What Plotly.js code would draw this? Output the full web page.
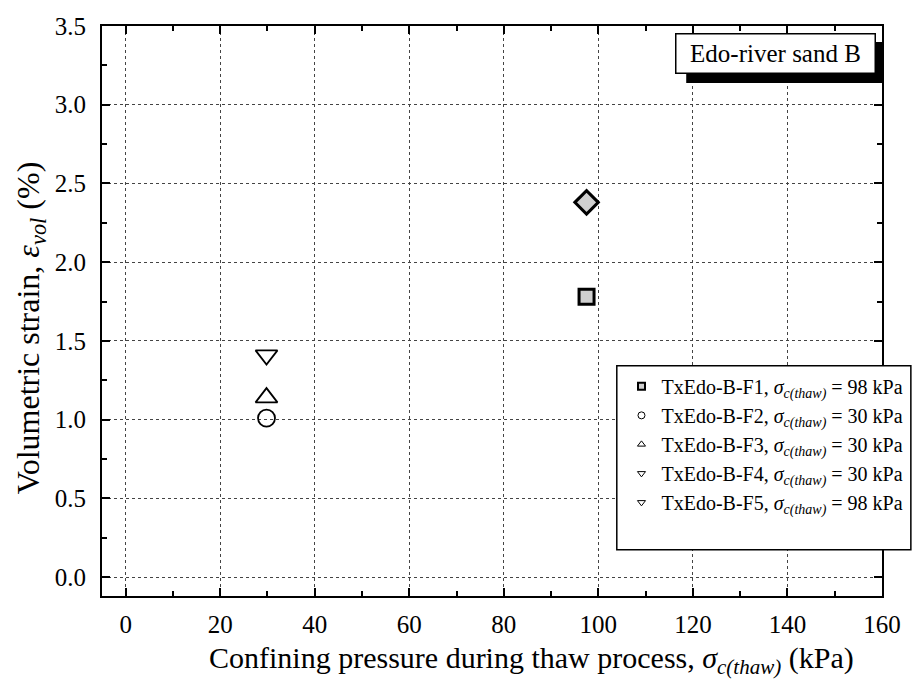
<!DOCTYPE html>
<html><head><meta charset="utf-8">
<script src="https://cdn.plot.ly/plotly-3.0.1.min.js"></script>
<style>body{margin:0;background:#fff}#chart{width:914px;height:685px}</style>
</head><body><div id="chart"></div>
<script>
// Data
const seriesNames = ["TxEdo-B-F1", "TxEdo-B-F2", "TxEdo-B-F3", "TxEdo-B-F4", "TxEdo-B-F5"];
const pressureLabels = ["98", "30", "30", "30", "98"];
const xValues = [97.5, 29.8, 29.8, 29.8, 97.5];
const yValues = [1.78, 1.01, 1.14, 1.41, 2.38];
const plotSymbols = ["square", "circle-open", "triangle-up-open", "triangle-down-open", "diamond"];
const legendSymbols = ["square", "circle-open", "triangle-up-open", "triangle-down-open", "triangle-down-open"];
const xTicks = [0, 20, 40, 60, 80, 100, 120, 140, 160];
const yTicks = [0.0, 0.5, 1.0, 1.5, 2.0, 2.5, 3.0, 3.5];

const FONT = "Liberation Serif";
const traces = [];
const plotSizes = [15, 17, 19, 19, 18];
for (let i = 0; i < seriesNames.length; i++) {
  const filled = plotSymbols[i] === "square" || plotSymbols[i] === "diamond";
  traces.push({
    x: [xValues[i]], y: [yValues[i]], type: "scatter", mode: "markers",
    showlegend: false, cliponaxis: false,
    marker: {symbol: plotSymbols[i], size: plotSizes[i],
      color: filled ? "#cfcfcf" : "#000",
      line: {color: "#000", width: filled ? 3 : 1.8}}
  });
}
for (let i = 0; i < seriesNames.length; i++) {
  const filled = legendSymbols[i] === "square";
  traces.push({
    x: [null], y: [null], type: "scatter", mode: "markers",
    name: seriesNames[i] + ", <i>σ</i><sub><i>c(thaw)</i></sub> = " + pressureLabels[i] + " kPa",
    marker: {symbol: legendSymbols[i], size: 7,
      color: filled ? "#cfcfcf" : "#000",
      line: {color: "#000", width: filled ? 2 : 1}}
  });
}

const axisCommon = {
  showline: true, linecolor: "#000", linewidth: 2, mirror: "allticks",
  ticks: "inside", ticklen: 8, tickwidth: 2, tickcolor: "#000",
  showgrid: true, gridcolor: "#444", griddash: "dot", gridwidth: 1,
  zeroline: false,
  tickfont: {family: FONT, size: 25, color: "#000"}
};

const layout = {
  width: 914, height: 685,
  margin: {l: 102, r: 32, t: 26, b: 89, autoexpand: false},
  paper_bgcolor: "#fff", plot_bgcolor: "#fff",
  font: {family: FONT, color: "#000"},
  xaxis: Object.assign({}, axisCommon, {
    range: [-5, 160], tickmode: "array", tickvals: xTicks,
    ticktext: xTicks.map(String), ticklabelstandoff: 5,
    minor: {dtick: 10, tick0: 0, ticks: "inside", ticklen: 5, tickwidth: 2, tickcolor: "#000", showgrid: false}
  }),
  yaxis: Object.assign({}, axisCommon, {
    range: [-0.12, 3.5], tickmode: "array", tickvals: yTicks,
    ticktext: yTicks.map(v => v.toFixed(1)), ticklabelstandoff: 9,
    minor: {dtick: 0.25, tick0: 0, ticks: "inside", ticklen: 5, tickwidth: 2, tickcolor: "#000", showgrid: false}
  }),
  legend: {
    x: 0.666, y: 0.402, xanchor: "left", yanchor: "top",
    bgcolor: "rgba(0,0,0,0)", borderwidth: 0,
    font: {family: FONT, size: 20, color: "#000"},
    tracegroupgap: 0, itemsizing: "trace"
  },
  shapes: [
    {type: "rect", xref: "paper", yref: "paper", x0: 0.660, x1: 1.037, y0: 0.081, y1: 0.404,
     fillcolor: "#fff", line: {color: "#000", width: 1.5}, layer: "above"},
    {type: "rect", xref: "paper", yref: "paper", x0: 0.749, x1: 1.0, y0: 0.9, y1: 0.972,
     fillcolor: "#000", line: {width: 0}, layer: "above"}
  ],
  annotations: [
    {xref: "paper", yref: "paper", x: 0.864, y: 0.988, xanchor: "center", yanchor: "top",
     text: "Edo-river sand B", showarrow: false, bgcolor: "#fff", bordercolor: "#000",
     width: 190, height: 30, borderwidth: 1.5, borderpad: 4,
     font: {family: FONT, size: 25, color: "#000"}},
    {xref: "paper", yref: "paper", x: 0.55, y: -0.112, xanchor: "center", yanchor: "middle",
     text: "Confining pressure during thaw process, <i>σ</i><sub><i>c(thaw)</i></sub> (kPa)",
     showarrow: false, font: {family: FONT, size: 30, color: "#000"}},
    {xref: "paper", yref: "paper", x: -0.092, y: 0.47, xanchor: "center", yanchor: "middle",
     textangle: -90,
     text: "Volumetric strain, <i>ε</i><sub><i>vol</i></sub> (%)",
     showarrow: false, font: {family: FONT, size: 32, color: "#000"}}
  ]
};

Plotly.newPlot("chart", traces, layout, {displayModeBar: false, staticPlot: true});
</script></body></html>
